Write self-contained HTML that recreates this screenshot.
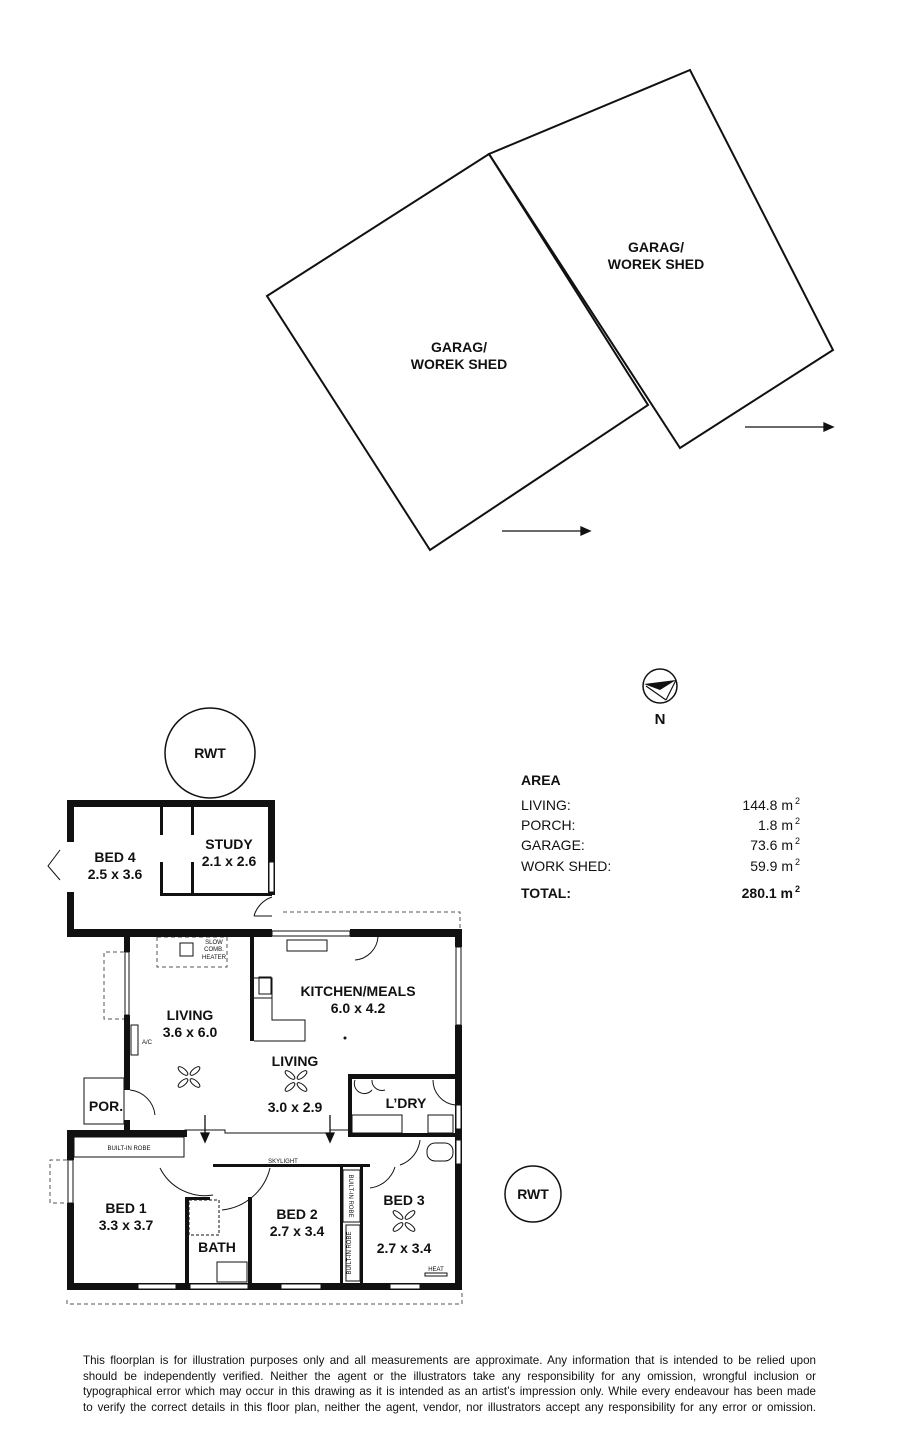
<!DOCTYPE html>
<html><head><meta charset="utf-8"><style>
html,body{margin:0;padding:0;background:#fff;}
svg{display:block;}
text{font-family:"Liberation Sans",sans-serif;fill:#111;}
.disc{position:absolute;left:83px;top:1353px;width:733px;font-family:"Liberation Sans",sans-serif;font-size:11.6px;line-height:15.5px;color:#111;}
.disc div{text-align:justify;text-align-last:justify;white-space:nowrap;}
</style></head><body>
<div style="position:relative;width:900px;height:1442px;overflow:hidden">
<svg width="900" height="1442" viewBox="0 0 900 1442">
<g fill="none" stroke="#111" stroke-width="2">
<polygon points="267,296 489,154 648,405 430,550"/>
<polygon points="489,154 690,70 833,350 680,448"/>
</g>
<g stroke="#111" stroke-width="1.3">
<line x1="502" y1="531" x2="582" y2="531"/><polygon points="590,531 581,527 581,535" fill="#111"/>
<line x1="745" y1="427" x2="825" y2="427"/><polygon points="833,427 824,423 824,431" fill="#111"/>
</g>
<g font-weight="bold" font-size="14" text-anchor="middle">
<text x="459" y="352">GARAG/</text><text x="459" y="369">WOREK SHED</text>
<text x="656" y="252">GARAG/</text><text x="656" y="269">WOREK SHED</text>
</g>
<!-- compass -->
<circle cx="660" cy="686" r="17" fill="none" stroke="#111" stroke-width="1.5"/>
<polygon points="644,684 676,680 660,690" fill="#111"/>
<line x1="646" y1="686" x2="666" y2="700" stroke="#111" stroke-width="1.2"/>
<line x1="676" y1="680" x2="666" y2="700" stroke="#111" stroke-width="1.2"/>
<text x="660" y="724" font-weight="bold" font-size="15" text-anchor="middle">N</text>
<!-- area -->
<g font-size="14">
<text x="521" y="785" font-weight="bold">AREA</text>
<text x="521" y="810">LIVING:</text><text x="521" y="830">PORCH:</text><text x="521" y="850">GARAGE:</text><text x="521" y="871">WORK SHED:</text>
<text x="521" y="898" font-weight="bold">TOTAL:</text>
<g text-anchor="end">
<text x="793" y="810">144.8 m</text><text x="793" y="830">1.8 m</text><text x="793" y="850">73.6 m</text><text x="793" y="871">59.9 m</text>
<text x="793" y="898" font-weight="bold">280.1 m</text>
</g>
<g font-size="9"><text x="795" y="804">2</text><text x="795" y="824">2</text><text x="795" y="844">2</text><text x="795" y="865">2</text><text x="795" y="892" font-weight="bold">2</text></g>
</g>
<!-- RWT -->
<circle cx="210" cy="753" r="45" fill="none" stroke="#111" stroke-width="1.5"/>
<text x="210" y="758" font-size="14" text-anchor="middle" font-weight="bold">RWT</text>
<circle cx="533" cy="1194" r="28" fill="none" stroke="#111" stroke-width="1.5"/>
<text x="533" y="1199" font-size="14" text-anchor="middle" font-weight="bold">RWT</text>
<!-- dashed -->
<g fill="none" stroke="#555" stroke-width="1" stroke-dasharray="4,3">
<polyline points="283,912 460,912 460,930"/>
<polyline points="124,952 104,952 104,1019 124,1019"/>
<rect x="157" y="937" width="70" height="30"/>
<polyline points="67,1300 67,1304 462,1304 462,1290"/>
<polyline points="67,1160 50,1160 50,1203 67,1203"/>
</g>
<!-- walls -->
<g fill="#111">
<rect x="67" y="800" width="208" height="7"/>
<rect x="67" y="800" width="7" height="42"/>
<rect x="67" y="892" width="7" height="45"/>
<rect x="67" y="929" width="205" height="8"/>
<rect x="268" y="800" width="7" height="95"/>
<rect x="160" y="807" width="3" height="28"/><rect x="191" y="807" width="3" height="28"/>
<rect x="160" y="862" width="3" height="34"/><rect x="191" y="862" width="3" height="34"/>
<rect x="160" y="893" width="112" height="3"/>
<rect x="124" y="937" width="6" height="15"/><rect x="124" y="1015" width="6" height="75"/>
<rect x="124" y="1120" width="6" height="12"/>
<rect x="250" y="937" width="4" height="104"/>
<rect x="350" y="929" width="112" height="8"/>
<rect x="455" y="929" width="7" height="18"/><rect x="455" y="1025" width="7" height="55"/>
<rect x="348" y="1074" width="4" height="62"/><rect x="348" y="1074" width="114" height="5"/>
<rect x="348" y="1133" width="114" height="4"/>
<rect x="67" y="1130" width="120" height="7"/>
<rect x="67" y="1130" width="7" height="30"/><rect x="67" y="1203" width="7" height="87"/>
<rect x="67" y="1283" width="395" height="7"/>
<rect x="455" y="1080" width="7" height="210"/>
<rect x="213" y="1164" width="157" height="3"/>
<rect x="185" y="1197" width="4" height="88"/><rect x="248" y="1197" width="4" height="88"/>
<rect x="185" y="1197" width="25" height="3"/>
<rect x="340" y="1167" width="3" height="116"/><rect x="360" y="1167" width="3" height="116"/>
</g>
<!-- windows -->
<g fill="#fff" stroke="#111" stroke-width="1">
<rect x="269" y="862" width="5" height="30"/>
<rect x="125" y="952" width="4" height="63"/>
<rect x="272" y="931" width="78" height="5"/>
<rect x="456" y="947" width="5" height="78"/>
<rect x="68" y="1160" width="5" height="43"/>
<rect x="138" y="1284" width="38" height="5"/><rect x="190" y="1284" width="58" height="5"/>
<rect x="281" y="1284" width="40" height="5"/><rect x="390" y="1284" width="30" height="5"/>
<rect x="456" y="1105" width="5" height="24"/><rect x="456" y="1140" width="5" height="24"/>
</g>
<g fill="none" stroke="#111" stroke-width="1">
<rect x="74" y="1137" width="110" height="20"/>
<rect x="343" y="1170" width="17" height="52"/><rect x="346" y="1225" width="14" height="56"/>
<polyline points="254,978 272,978 272,998 254,998"/>
<polyline points="254,978 272,978 272,1020 305,1020 305,1041 254,1041"/>
<rect x="287" y="940" width="40" height="11"/>
<rect x="259" y="977" width="12" height="17"/>
<rect x="180" y="943" width="13" height="13"/>
<rect x="131" y="1025" width="7" height="30"/>
<rect x="84" y="1078" width="40" height="46"/>
<rect x="352" y="1115" width="50" height="18"/><rect x="428" y="1115" width="25" height="18"/>
<rect x="189" y="1200" width="30" height="35" stroke-dasharray="3,2"/>
<rect x="217" y="1262" width="30" height="20"/>
<rect x="427" y="1143" width="26" height="18" rx="8"/>
<rect x="425" y="1273" width="22" height="3"/>
<polyline points="185,1137 185,1130 225,1130 225,1133 330,1133 330,1130 350,1130"/>
<path d="M130,1090 A28,28 0 0 1 155,1115"/>
<path d="M254,916 A28,28 0 0 1 272,897 M254,916 L272,916"/>
<path d="M355,960 A25,25 0 0 0 378,937"/>
<path d="M160,1168 A50,50 0 0 0 213,1195"/>
<path d="M270,1168 A55,55 0 0 1 222,1210"/>
<path d="M420,1140 A30,30 0 0 1 400,1165 M370,1188 A30,30 0 0 0 395,1167"/>
<path d="M60,850 L48,866 L60,880"/>
<path d="M433,1080 A25,25 0 0 0 455,1105"/>
<path d="M355,1080 A10,10 0 0 0 372,1090 M372,1080 A10,10 0 0 0 385,1090"/>
</g>
<g stroke="#111" stroke-width="1.3">
<line x1="205" y1="1115" x2="205" y2="1138"/><polygon points="205,1142 201,1133 209,1133" fill="#111"/>
<line x1="330" y1="1115" x2="330" y2="1138"/><polygon points="330,1142 326,1133 334,1133" fill="#111"/>
</g>
<g fill="none" stroke="#111" stroke-width="1">
<g transform="translate(189,1077)"><ellipse cx="-6" cy="-6" rx="6" ry="2.5" transform="rotate(40 -6 -6)"/><ellipse cx="6" cy="-6" rx="6" ry="2.5" transform="rotate(-40 6 -6)"/><ellipse cx="-6" cy="6" rx="6" ry="2.5" transform="rotate(-40 -6 6)"/><ellipse cx="6" cy="6" rx="6" ry="2.5" transform="rotate(40 6 6)"/></g>
<g transform="translate(296,1081)"><ellipse cx="-6" cy="-6" rx="6" ry="2.5" transform="rotate(40 -6 -6)"/><ellipse cx="6" cy="-6" rx="6" ry="2.5" transform="rotate(-40 6 -6)"/><ellipse cx="-6" cy="6" rx="6" ry="2.5" transform="rotate(-40 -6 6)"/><ellipse cx="6" cy="6" rx="6" ry="2.5" transform="rotate(40 6 6)"/></g>
<g transform="translate(404,1221)"><ellipse cx="-6" cy="-6" rx="6" ry="2.5" transform="rotate(40 -6 -6)"/><ellipse cx="6" cy="-6" rx="6" ry="2.5" transform="rotate(-40 6 -6)"/><ellipse cx="-6" cy="6" rx="6" ry="2.5" transform="rotate(-40 -6 6)"/><ellipse cx="6" cy="6" rx="6" ry="2.5" transform="rotate(40 6 6)"/></g>
</g>
<!-- labels -->
<g font-weight="bold" font-size="14" text-anchor="middle">
<text x="115" y="862">BED 4</text><text x="115" y="879">2.5 x 3.6</text>
<text x="229" y="849">STUDY</text><text x="229" y="866">2.1 x 2.6</text>
<text x="358" y="996">KITCHEN/MEALS</text><text x="358" y="1013">6.0 x 4.2</text>
<text x="190" y="1020">LIVING</text><text x="190" y="1037">3.6 x 6.0</text>
<text x="295" y="1066">LIVING</text><text x="295" y="1112">3.0 x 2.9</text>
<text x="106" y="1111">POR.</text>
<text x="406" y="1108">L’DRY</text>
<text x="126" y="1213">BED 1</text><text x="126" y="1230">3.3 x 3.7</text>
<text x="217" y="1252">BATH</text>
<text x="297" y="1219">BED 2</text><text x="297" y="1236">2.7 x 3.4</text>
<text x="404" y="1205">BED 3</text><text x="404" y="1253">2.7 x 3.4</text>
</g>
<g font-size="6" text-anchor="middle">
<text x="129" y="1150">BUILT-IN ROBE</text>
<text x="283" y="1163">SKYLIGHT</text>
<text x="214" y="944">SLOW</text><text x="214" y="951">COMB.</text><text x="214" y="959">HEATER</text>
<text x="147" y="1044">A/C</text>
<text x="436" y="1271">HEAT</text>
<text transform="translate(349,1196) rotate(90)">BUILT-IN ROBE</text>
<text transform="translate(351,1253) rotate(-90)">BUILT-IN ROBE</text>
</g>
<circle cx="345" cy="1038" r="1.5" fill="#111"/>
</svg>
<div class="disc">
<div>This floorplan is for illustration purposes only and all measurements are approximate. Any information that is intended to be relied upon</div>
<div>should be independently verified. Neither the agent or the illustrators take any responsibility for any omission, wrongful inclusion or</div>
<div>typographical error which may occur in this drawing as it is intended as an artist’s impression only. While every endeavour has been made</div>
<div>to verify the correct details in this floor plan, neither the agent, vendor, nor illustrators accept any responsibility for any error or omission.</div>
</div>
</div>
</body></html>
